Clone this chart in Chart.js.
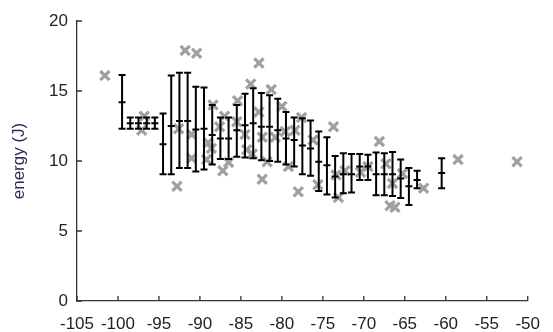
<!DOCTYPE html>
<html>
<head>
<meta charset="utf-8">
<script src="https://cdn.jsdelivr.net/npm/chart.js@4.4.1/dist/chart.umd.min.js"></script>
<style>
	html, body { margin: 0; padding: 0; background: #fff; }
</style>
</head>
<body>
<canvas id="canvas" width="553" height="332"></canvas>
<script>
// barras de error: posicion, media, maximo, minimo
const posiciones = [-99.5, -98.5, -97.5, -96.5, -95.5, -94.5, -93.5, -92.5, -91.5, -90.5, -89.5, -88.5, -87.5, -86.5, -85.5, -84.5, -83.5, -82.5, -81.5, -80.5, -79.5, -78.5, -77.5, -76.5, -75.5, -74.5, -73.5, -72.5, -71.5, -70.5, -69.5, -68.5, -67.5, -66.5, -65.5, -64.5, -63.5, -60.5];
const medias = [14.2, 12.7, 12.7, 12.7, 12.7, 11.2, 12.5, 12.85, 12.85, 12.25, 12.3, 11.85, 11.6, 11.6, 12.2, 12.55, 12.7, 12.45, 12.45, 12.2, 11.6, 11.5, 11.1, 10.9, 9.95, 9.7, 8.9, 9.05, 9.05, 9.6, 9.6, 9.05, 9.05, 9.05, 8.75, 8.2, 8.65, 9.15];
const maximos = [16.15, 13.1, 13.1, 13.1, 13.1, 13.4, 16.1, 16.3, 16.3, 15.3, 15.25, 14.0, 13.1, 13.1, 14.0, 14.8, 15.2, 14.85, 14.7, 14.45, 13.5, 13.1, 13.05, 12.9, 12.1, 11.7, 10.35, 10.55, 10.5, 10.5, 10.45, 10.6, 10.55, 10.65, 10.1, 9.5, 9.3, 10.2];
const minimos = [12.3, 12.3, 12.3, 12.3, 12.3, 9.05, 9.05, 9.5, 9.5, 9.25, 9.4, 9.75, 10.15, 10.15, 10.3, 10.25, 10.2, 10.05, 10.0, 9.95, 9.75, 9.6, 9.05, 8.95, 7.85, 7.6, 7.4, 7.7, 7.75, 8.65, 8.65, 7.55, 7.55, 7.5, 7.35, 6.85, 8.05, 8.05];

// puntos grises individuales
const grisX = [-101.6, -96.8, -97.1, -92.8, -92.6, -91.8, -90.4, -91.0, -91.0, -89.0, -89.2, -88.6, -88.4, -87.6, -87.0, -87.2, -86.5, -85.4, -83.8, -82.8, -81.3, -82.8, -80.0, -82.4, -80.8, -83.6, -81.8, -82.4, -79.2, -78.0, -78.4, -77.6, -79.6, -76.2, -75.6, -73.7, -73.4, -73.1, -70.4, -69.5, -68.1, -67.3, -66.5, -65.3, -66.8, -66.2, -62.7, -58.5, -51.3, -85.5, -84.5, -72.3, -84.3];
const grisY = [16.1, 13.2, 12.2, 8.2, 12.3, 17.9, 17.7, 11.9, 10.2, 11.3, 10.1, 10.9, 14.0, 12.45, 13.2, 9.3, 9.9, 14.3, 15.5, 17.0, 15.1, 13.5, 13.9, 11.7, 11.7, 10.5, 9.95, 8.7, 9.6, 7.8, 12.2, 13.1, 12.1, 11.5, 8.3, 12.45, 9.0, 7.4, 9.2, 9.6, 11.4, 9.8, 8.4, 9.1, 6.8, 6.7, 8.05, 10.1, 9.95, 12.8, 11.9, 9.3, 10.8];

// ticks de los ejes
const ticksX = [-105, -100, -95, -90, -85, -80, -75, -70, -65, -60, -55, -50];
const ticksY = [0, 5, 10, 15, 20];

const fuente = { family: "'Liberation Sans', Arial, sans-serif", size: 17 };

const segmentos = [];
posiciones.forEach((x, i) => {
	segmentos.push({ x: x, y: minimos[i] });
	segmentos.push({ x: x, y: maximos[i] });
	segmentos.push({ x: x, y: null });
});

const topes = [];
posiciones.forEach((x, i) => {
	topes.push({ x: x, y: minimos[i] });
	topes.push({ x: x, y: maximos[i] });
});

const marcasInternas = {
	id: "marcasInternas",
	beforeDatasetsDraw(chart) {
		const ctx = chart.ctx;
		const area = chart.chartArea;
		const ejeX = chart.scales.x;
		const ejeY = chart.scales.y;
		ctx.save();
		ctx.strokeStyle = "#333";
		ctx.lineWidth = 1.3;
		ctx.beginPath();
		ejeX.ticks.forEach((t) => {
			const px = ejeX.getPixelForValue(t.value);
			ctx.moveTo(px, area.bottom);
			ctx.lineTo(px, area.bottom - 5);
		});
		ejeY.ticks.forEach((t) => {
			const py = ejeY.getPixelForValue(t.value);
			ctx.moveTo(area.left, py);
			ctx.lineTo(area.left + 5, py);
		});
		ctx.stroke();
		ctx.restore();
	},
};

const grafico = new Chart(document.getElementById("canvas"), {
	type: "scatter",
	data: {
		datasets: [
			{
				label: "lineas",
				data: segmentos,
				showLine: true,
				spanGaps: false,
				borderColor: "#000",
				borderWidth: 2,
				pointRadius: 0,
				order: 1,
			},
			{
				label: "topes",
				data: topes,
				pointStyle: "line",
				pointRadius: 3.5,
				borderColor: "#000",
				backgroundColor: "#000",
				pointBorderWidth: 2,
				order: 0,
			},
			{
				label: "medias",
				data: posiciones.map((x, i) => ({ x: x, y: medias[i] })),
				pointStyle: "line",
				pointRadius: 3.5,
				borderColor: "#000",
				backgroundColor: "#000",
				pointBorderWidth: 2,
				order: 0,
			},
			{
				label: "puntos",
				data: grisX.map((x, i) => ({ x: x, y: grisY[i] })),
				pointStyle: "crossRot",
				pointRadius: 6.5,
				borderColor: "#a0a0a0",
				backgroundColor: "#a0a0a0",
				pointBorderWidth: 3.2,
				order: 5,
			},
		],
	},
	options: {
		responsive: false,
		animation: false,
		events: [],
		layout: { padding: { top: 21, right: 19, left: 0, bottom: 0 } },
		plugins: {
			legend: { display: false },
			tooltip: { enabled: false },
		},
		scales: {
			x: {
				type: "linear",
				min: -105,
				max: -50,
				afterBuildTicks: (eje) => {
					eje.ticks = ticksX.map((v) => ({ value: v }));
				},
				afterFit: (eje) => {
					eje.height = 31;
				},
				ticks: {
					font: fuente,
					color: "#222",
					padding: 13,
					maxRotation: 0,
					autoSkip: false,
				},
				grid: { display: false, drawTicks: false },
				border: { display: true, color: "#333", width: 1.3 },
			},
			y: {
				min: 0,
				max: 20,
				afterBuildTicks: (eje) => {
					eje.ticks = ticksY.map((v) => ({ value: v }));
				},
				afterFit: (eje) => {
					eje.width = 77;
				},
				ticks: {
					font: fuente,
					color: "#222",
					padding: 9,
				},
				grid: { display: false, drawTicks: false },
				border: { display: true, color: "#333", width: 1.3 },
				title: {
					display: true,
					text: "energy (J)",
					font: fuente,
					color: "#2b2b55",
					padding: { top: 9, bottom: 0 },
				},
			},
		},
	},
	plugins: [marcasInternas],
});
</script>
</body>
</html>
